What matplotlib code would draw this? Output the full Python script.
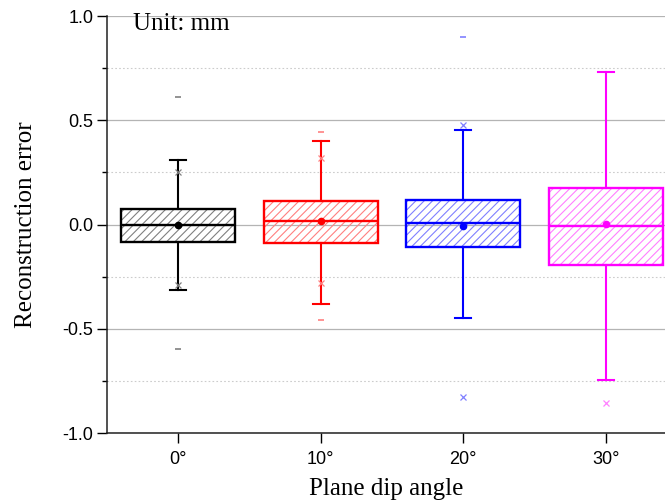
import matplotlib.pyplot as plt
from matplotlib.ticker import MultipleLocator, FormatStrFormatter

plt.rcParams["axes.unicode_minus"] = False
plt.rcParams["hatch.linewidth"] = 0.8

# values (Origin-style box chart)
angles = ["0°", "10°", "20°", "30°"]
colors = ["#000000", "#FF0000", "#0000FF", "#FF00FF"]
light_colors = ["#808080", "#FF8080", "#8080FF", "#FF80FF"]
q1 = [-0.082, -0.088, -0.109, -0.192]
median = [0.0, 0.016, 0.006, -0.006]
q3 = [0.077, 0.112, 0.120, 0.176]
mean = [-0.003, 0.016, -0.008, 0.005]
whisker_low = [-0.315, -0.380, -0.446, -0.746]
whisker_high = [0.310, 0.400, 0.456, 0.730]
p01 = [-0.290, -0.278, -0.826, -0.855]
p99 = [0.254, 0.318, 0.476, None]
v_min = [-0.598, -0.457, None, None]
v_max = [0.610, 0.446, 0.900, None]

fig = plt.figure(figsize=(6.65, 5.03), dpi=100)
ax = fig.add_axes([0.161, 0.139, 0.839, 0.829])

positions = list(range(len(angles)))

# grid
ax.set_ylim(-1.0, 1.0)
ax.set_xlim(-0.5, 3.416)
ax.yaxis.set_major_locator(MultipleLocator(0.5))
ax.yaxis.set_minor_locator(MultipleLocator(0.25))
ax.yaxis.set_major_formatter(FormatStrFormatter("%.1f"))
ax.grid(axis="y", which="major", color="#b4b4b4", linewidth=0.9, linestyle="-")
ax.grid(axis="y", which="minor", color="#cccccc", linewidth=0.8, linestyle=(0, (1.5, 2)))
ax.set_axisbelow(True)

# hatch fill of the boxes
for i in positions:
    ax.bar(i, q3[i] - q1[i], bottom=q1[i], width=0.8, fill=False,
           hatch="////", edgecolor=light_colors[i], linewidth=0, zorder=2)

for i in positions:
    stats = [{
        "med": median[i], "q1": q1[i], "q3": q3[i],
        "whislo": whisker_low[i], "whishi": whisker_high[i],
        "mean": mean[i], "fliers": [],
    }]
    c = colors[i]
    ax.bxp(stats, positions=[i], widths=0.8, patch_artist=True,
           showmeans=True, showfliers=False, manage_ticks=False,
           boxprops=dict(facecolor="none", edgecolor=c, linewidth=1.7),
           medianprops=dict(color=c, linewidth=1.7),
           whiskerprops=dict(color=c, linewidth=1.5),
           capprops=dict(color=c, linewidth=1.5),
           capwidths=0.11,
           meanprops=dict(marker="o", markerfacecolor=c, markeredgecolor=c,
                          markersize=4.5),
           zorder=3)
    for v in (p01[i], p99[i]):
        if v is not None:
            ax.plot(i, v, marker="x", color=light_colors[i], markersize=5,
                    markeredgewidth=0.9, zorder=4)
    for v in (v_min[i], v_max[i]):
        if v is not None:
            ax.plot(i, v, marker="_", color=light_colors[i], markersize=5,
                    markeredgewidth=1.2, zorder=4)

ax.set_xticks(positions)
ax.set_xticklabels(angles)

for side in ("top", "right"):
    ax.spines[side].set_visible(False)
for side in ("left", "bottom"):
    ax.spines[side].set_linewidth(1.1)
    ax.spines[side].set_color("#222222")

ax.tick_params(axis="both", which="major", direction="out", length=7,
               width=1.0, labelsize=13, pad=3)
ax.tick_params(axis="x", which="major", pad=6)
ax.tick_params(axis="y", which="minor", direction="out", length=3.5, width=1.0)
for lab in ax.get_xticklabels() + ax.get_yticklabels():
    lab.set_fontfamily("Liberation Sans")

ax.set_xlabel("Plane dip angle", fontfamily="Liberation Serif", fontsize=18,
              labelpad=7)
ax.set_ylabel("Reconstruction error", fontfamily="Liberation Serif",
              fontsize=18, labelpad=18)
ax.text(0.047, 0.982, "Unit: mm", transform=ax.transAxes,
        fontfamily="Liberation Serif", fontsize=18, va="center", ha="left")

fig.savefig("out.png", dpi=100)
